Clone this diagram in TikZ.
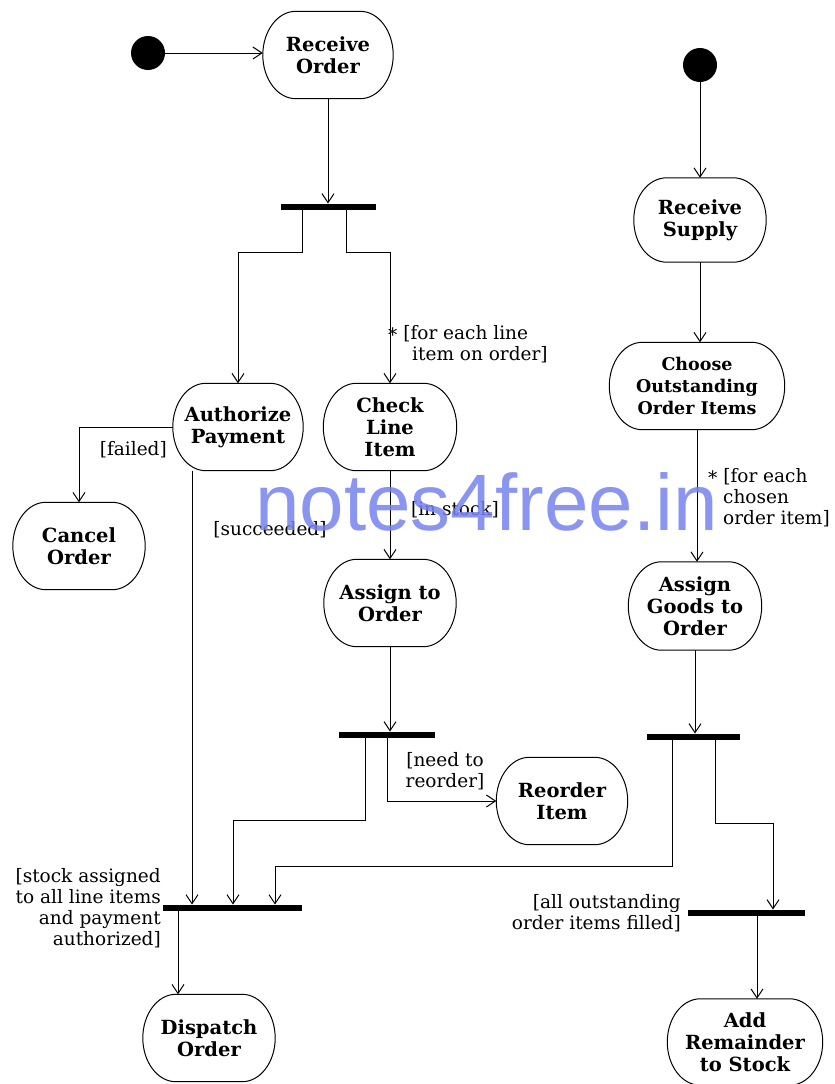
\documentclass[tikz,border=0pt]{standalone}
\usepackage{fontspec}
\newfontfamily\dvs{DejaVu Serif}
\newfontfamily\wmfont{Liberation Sans}
\usetikzlibrary{arrows.meta,calc}
\definecolor{wmblue}{RGB}{118,130,238}
\newcommand\actoutline[1]{%
  \draw[line width=1pt] ([xshift=33pt]#1.north west) -- ([xshift=-33pt]#1.north east)
    .. controls ([xshift=-14.8pt]#1.north east) and ([yshift=24pt]#1.east) .. (#1.east)
    .. controls ([yshift=-24pt]#1.east) and ([xshift=-14.8pt]#1.south east) .. ([xshift=-33pt]#1.south east)
    -- ([xshift=33pt]#1.south west)
    .. controls ([xshift=14.8pt]#1.south west) and ([yshift=-24pt]#1.west) .. (#1.west)
    .. controls ([yshift=24pt]#1.west) and ([xshift=14.8pt]#1.north west) .. cycle;}
\begin{document}
\begin{tikzpicture}[x=1pt,y=-1pt,
  act/.style={minimum width=130pt, minimum height=87pt, inner sep=0pt, align=center, font=\dvs\bfseries\fontsize{19.5}{22}\selectfont},
  syncbar/.style={fill=black, inner sep=0pt, minimum height=6.5pt},
  init/.style={circle, fill=black, inner sep=0pt, minimum size=34pt},
  lbl/.style={inner sep=0pt, font=\dvs\fontsize{18.5}{21}\selectfont},
  flow/.style={line width=1pt, -{Straight Barb[length=9pt,width=12pt,line width=1pt]}}
]
\useasboundingbox (0,0) rectangle (835,1084);

% left column
\node[init] (s1) at (148,53) {};
\node[act] (ro) at (328,55) {Receive\\Order};
\node[syncbar, minimum width=95pt] (f1) at (328,207) {};
\node[act] (ap) at (238,427) {Authorize\\Payment};
\node[act, minimum width=133pt] (cli) at (390,427) {Check\\Line\\Item};
\node[act, minimum width=132pt] (co) at (79,546) {Cancel\\Order};
\node[act, minimum width=132pt] (ato) at (390,603) {Assign to\\Order};
\node[syncbar, minimum width=96pt] (f2) at (387,735) {};
\node[act, minimum width=131pt] (ri) at (562,801) {Reorder\\Item};
\node[syncbar, minimum width=139pt] (j1) at (232,908) {};
\node[act, minimum width=132pt] (do) at (209,1038) {Dispatch\\Order};

% right column
\node[init] (s2) at (700,65) {};
\node[act, minimum width=132pt, minimum height=84pt] (rs) at (700,220) {Receive\\Supply};
\node[act, minimum width=175pt, font=\dvs\bfseries\fontsize{17.5}{22}\selectfont] (coi) at (697,386) {Choose\\Outstanding\\Order Items};
\node[act, minimum width=133pt, minimum height=88pt] (agto) at (695,606) {Assign\\Goods to\\Order};
\node[syncbar, minimum width=93pt] (f3) at (693,737) {};
\node[syncbar, minimum width=117pt] (j2) at (746,913) {};
\node[act, minimum width=155pt, minimum height=86pt] (ar) at (745,1042) {Add\\Remainder\\to Stock};

% activity outlines
\foreach \n in {ro,ap,cli,co,ato,ri,do,rs,coi,agto,ar} {\actoutline{\n}}

% connectors
\draw[flow] (s1.east) -- (s1.east -| ro.west);
\draw[flow] (ro.south) -- (f1.north);
\draw[flow] ([xshift=-26pt]f1.south) -- ++(0,42) -| (ap.north);
\draw[flow] ([xshift=18pt]f1.south) -- ++(0,42) -| (cli.north);
\draw[flow] (ap.west) -| (co.north);
\draw[flow] ([xshift=-46pt]ap.south) -- ([xshift=-46pt]ap.south |- j1.north);
\draw[flow] (cli.south) -- (ato.north);
\draw[flow] (ato.south) -- (ato.south |- f2.north);
\draw[flow] ([xshift=-22pt]f2.south) -- ++(0,82) -| ([xshift=1pt]j1.north);
\draw[flow] (f2.south) |- (ri.west);
\draw[flow] ([xshift=-54pt]j1.south) -- ([xshift=-54pt]j1.south |- do.north);

\draw[flow] (s2.south) -- (rs.north);
\draw[flow] (rs.south) -- (rs.south |- coi.north);
\draw[flow] (coi.south) -- (coi.south |- agto.north);
\draw[flow] (agto.south) -- (agto.south |- f3.north);
\draw[flow] ([xshift=-21pt]f3.south) -- ++(0,126) -| ([xshift=43pt]j1.north);
\draw[flow] ([xshift=22pt]f3.south) -- ++(0,83) -| ([xshift=27pt]j2.north);
\draw[flow] ([xshift=11pt]j2.south) -- ([xshift=11pt]j2.south |- ar.north);

% labels
\node[lbl, anchor=north west, align=left] (l1) at (388,325) {\raisebox{-2pt}{*} [for each line\\\hspace*{24pt}item on order]};
\node[lbl, anchor=east] (l2) at (167,450) {[failed]};
\node[lbl] (l3) at (270,530) {[succeeded]};
\node[lbl] (l4) at (455,510) {[in stock]};
\node[lbl, align=center] (l5) at (445,771) {[need to\\reorder]};
\node[lbl, anchor=north west, align=left] (l6) at (708,468) {\raisebox{-2pt}{*} [for each\\\hspace*{15pt}chosen\\\hspace*{15pt}order item]};
\node[lbl, anchor=east, align=right] (l7) at (681,913) {[all outstanding\\order items filled]};
\node[lbl, anchor=east, align=right] (l8) at (161,908) {[stock assigned\\to all line items\\and payment\\authorized]};

% watermark
\node[anchor=base west, inner sep=0pt, font=\wmfont\fontsize{80}{80}\selectfont, text=wmblue, opacity=0.85] (wm) at (255,530) {notes4free.in};
\end{tikzpicture}
\end{document}
